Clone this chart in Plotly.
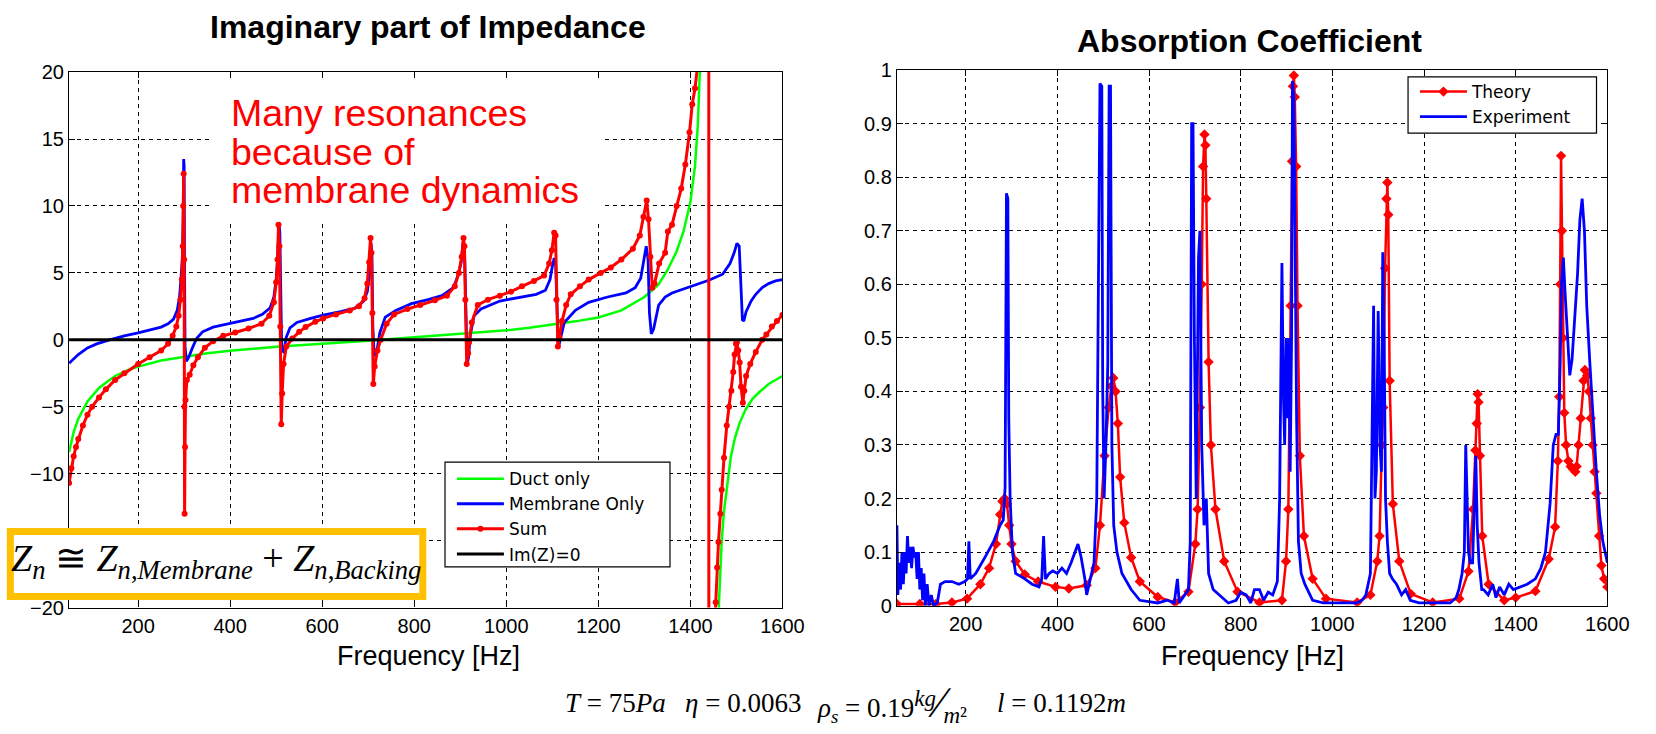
import plotly.graph_objects as go

W, H = 1656, 734

# ---------------- Imaginary part of impedance ----------------
duct_freq = [50, 55, 60, 70, 80, 90, 100, 115, 130, 150, 175, 200, 250, 300, 350, 400, 450, 500,
             550, 600, 650, 700, 750, 800, 850, 900, 950, 1000, 1050, 1100, 1150, 1200, 1250,
             1300, 1330, 1350, 1370, 1385, 1400, 1410, 1416, 1421, None,
             1461, 1464, 1468, 1473, 1480, 1488, 1497, 1507, 1520, 1535, 1550, 1570, 1585, 1600]
duct_im = [-8.4, -7.6, -6.9, -5.9, -5.2, -4.6, -4.2, -3.6, -3.2, -2.7, -2.3, -2.0, -1.55, -1.25,
           -1.0, -0.82, -0.65, -0.52, -0.4, -0.3, -0.2, -0.07, 0.06, 0.19, 0.31, 0.43, 0.57, 0.71,
           0.9, 1.12, 1.38, 1.67, 2.2, 3.2, 4.1, 5.2, 6.6, 8.1, 10.3, 13.0, 16.0, 20.5, None,
           -20.5, -18.0, -15.0, -12.8, -10.8, -8.7, -7.3, -6.2, -5.2, -4.4, -3.9, -3.3, -3.0, -2.7]

membrane_freq = [50, 70, 90, 110, 138, 170, 200, 230, 250, 265, 277, 285, 290, 293, 296, 298, 299,
                 300, 301, 302, 305, 310, 318, 327, 340, 363, 390, 420, 450, 470, 487, 495, 500,
                 503, 506, 508, 510, 512, 516, 522, 530, 545, 575, 602, 640, 670, 690, 698, 703,
                 706, 708, 710, 713, 718, 725, 737, 760, 794, 830, 860, 885, 895, 902, 906, 909,
                 912, 915, 918, 922, 930, 945, 986, 1030, 1065, 1085, 1095, 1100, 1104, 1107, 1110,
                 1113, 1117, 1126, 1150, 1179, 1220, 1260, 1280, 1292, 1298, 1304, 1308, 1311,
                 1315, 1320, 1331, 1345, 1360, 1400, 1440, 1470, 1486, 1495, 1501, 1506, 1509,
                 1513, 1516, 1521, 1532, 1542, 1556, 1570, 1585, 1600]
membrane_im = [-1.75, -1.1, -0.6, -0.3, 0.0, 0.3, 0.52, 0.75, 0.95, 1.2, 1.55, 2.2, 3.2, 4.5, 6.0,
               9.0, 13.5, 13.0, 5.0, -0.5, -1.6, -1.3, -0.6, 0.1, 0.6, 0.95, 1.15, 1.35, 1.6, 1.9,
               2.4, 3.2, 4.5, 6.0, 8.7, 8.0, 2.0, -0.8, -0.9, 0.2, 0.9, 1.3, 1.6, 1.85, 2.1, 2.35,
               2.9, 3.6, 5.0, 7.2, 6.5, 1.0, -1.2, -1.0, 0.5, 1.7, 2.2, 2.7, 3.0, 3.3, 3.9, 4.8,
               5.8, 7.3, 7.0, 2.0, -1.8, -1.3, 0.4, 1.8, 2.3, 2.9, 3.2, 3.4, 3.7, 4.5, 5.5, 6.1,
               5.8, 2.0, -0.6, 0.0, 1.3, 2.2, 2.8, 3.2, 3.5, 3.9, 4.6, 5.8, 7.0, 6.0, 2.0, 0.45,
               0.8, 2.6, 3.2, 3.5, 4.0, 4.45, 4.9, 5.7, 6.5, 7.2, 7.0, 4.5, 1.5, 1.4, 2.1, 2.9,
               3.4, 3.9, 4.2, 4.4, 4.5]

sum_freq = [50, 55, 60, 65, 70, 80, 90, 100, 115, 130, 150, 170, 200, 225, 250, 265, 275, 283, 288,
            292, 295, 297, 298, 299, 300, 300.5, 301, 302, 303, 306, 312, 320, 330, 345, 363, 385,
            411, 440, 468, 485, 495, 500, 503, 505, 507, 509, 511, 513, 516, 522, 535, 550, 564,
            585, 602, 630, 660, 680, 692, 698, 702, 705, 707, 709, 711, 714, 720, 727, 740, 756,
            785, 813, 845, 871, 888, 897, 903, 907, 909, 911, 914, 917, 919, 925, 938, 960, 986,
            1010, 1034, 1060, 1082, 1093, 1099, 1104, 1107, 1109, 1112, 1115, 1121, 1130, 1140,
            1160, 1179, 1205, 1227, 1250, 1275, 1290, 1298, 1305, 1309, 1313, 1317, 1322, 1332,
            1345, 1351, 1360, 1370, 1380, 1389, 1398, 1404, 1410, 1415, 1420, 1439, 1441, 1452,
            1455, 1458, 1461, 1465, 1468, 1473, 1479, 1484, 1489, 1493, 1496, 1499, 1501, 1504,
            1507, 1510, 1514, 1517, 1521, 1530, 1542, 1556, 1565, 1577, 1588, 1600]
sum_im = [-10.7, -9.6, -8.7, -8.0, -7.4, -6.4, -5.6, -5.0, -4.3, -3.7, -3.0, -2.5, -1.8, -1.3,
          -0.8, -0.3, 0.3, 1.0, 1.8, 3.0, 4.5, 7.0, 10.0, 12.4, 6.0, -5.0, -13.0, -8.0, -4.5,
          -3.0, -2.6, -1.9, -1.3, -0.6, -0.1, 0.3, 0.55, 0.85, 1.2, 1.8, 2.8, 4.3, 6.0, 8.6, 7.0,
          1.0, -6.3, -4.0, -1.8, -0.5, 0.1, 0.6, 0.95, 1.35, 1.6, 1.9, 2.2, 2.5, 3.1, 4.2, 5.8,
          7.6, 6.5, 2.0, -3.3, -2.0, -0.8, 0.0, 1.2, 1.9, 2.3, 2.6, 2.95, 3.3, 4.0, 5.0, 6.2,
          7.6, 7.0, 3.0, -1.8, -1.0, -0.2, 1.3, 2.6, 3.0, 3.3, 3.6, 4.0, 4.4, 4.8, 5.7, 6.7,
          8.0, 7.8, 3.0, -0.5, 0.2, 1.4, 2.6, 3.4, 4.0, 4.5, 5.0, 5.4, 6.0, 6.8, 7.8, 9.2, 10.4,
          9.0, 6.2, 3.9, 4.2, 5.7, 6.5, 8.1, 8.6, 10.0, 11.3, 13.1, 15.5, 17.6, 18.8, 20.3, 23.0,
          300.0, -300.0, -22.0, -19.6, -17.0, -15.1, -13.0, -11.2, -8.8, -6.4, -5.0, -3.8, -2.4,
          -1.1, -0.3, -0.2, -0.8, -1.7, -3.5, -4.7, -3.8, -2.7, -1.8, -0.9, 0.0, 0.4, 1.0, 1.4,
          1.85]

zero_freq = [50, 1600]
zero_im = [0, 0]

imp_xticks = [200, 400, 600, 800, 1000, 1200, 1400, 1600]
imp_yticks = [-20, -15, -10, -5, 0, 5, 10, 15, 20]

# ---------------- Absorption coefficient ----------------
theory_freq = [50, 100, 135, 170, 203, 232, 251, 266, 275, 280, 285, 290, 295, 300, 309, 329, 358,
               396, 425, 464, 483, 493, 503, 512, 518, 522, 527, 532, 537, 546, 561, 580, 619,
               657, 686, 701, 706, 711, 715, 718, 721, 723, 725, 730, 735, 745, 764, 793, 841,
               890, 899, 904, 909, 912, 914, 916, 918, 921, 924, 929, 938, 957, 986, 1054, 1083,
               1098, 1103, 1108, 1111, 1115, 1118, 1120, 1122, 1125, 1132, 1146, 1171, 1219,
               1277, 1297, 1307, 1312, 1315, 1317, 1319, 1322, 1327, 1341, 1375, 1400, 1443,
               1472, 1486, 1492, 1495, 1497, 1499, 1501, 1503, 1506, 1510, 1515, 1520, 1525,
               1530, 1533, 1537, 1542, 1548, 1551, 1556, 1560, 1564, 1568, 1572, 1576, 1582,
               1587, 1593, 1600]
theory_alpha = [0.003, 0.003, 0.003, 0.006, 0.013, 0.04, 0.07, 0.115, 0.17, 0.195, 0.2, 0.19,
                0.15, 0.115, 0.083, 0.058, 0.045, 0.035, 0.032, 0.038, 0.07, 0.15, 0.28, 0.37,
                0.41, 0.425, 0.4, 0.34, 0.24, 0.155, 0.09, 0.045, 0.016, 0.006, 0.026, 0.115,
                0.18, 0.37, 0.6, 0.82, 0.88, 0.86, 0.76, 0.455, 0.3, 0.18, 0.083, 0.026, 0.006,
                0.01, 0.083, 0.18, 0.56, 0.83, 0.97, 0.99, 0.95, 0.82, 0.56, 0.28, 0.13, 0.05,
                0.013, 0.006, 0.02, 0.083, 0.13, 0.3, 0.37, 0.63, 0.76, 0.79, 0.73, 0.42, 0.19,
                0.083, 0.022, 0.006, 0.013, 0.064, 0.18, 0.29, 0.34, 0.395, 0.38, 0.28, 0.13,
                0.04, 0.01, 0.015, 0.027, 0.087, 0.147, 0.27, 0.39, 0.6, 0.84, 0.7, 0.5, 0.36,
                0.3, 0.27, 0.26, 0.255, 0.25, 0.26, 0.3, 0.35, 0.42, 0.44, 0.43, 0.4, 0.35, 0.3,
                0.25, 0.21, 0.13, 0.075, 0.05, 0.035]

experiment_freq = [50, 52, 55, 58, 61, 64, 67, 70, 73, 76, 79, 82, 85, 88, 91, 94, 97, 100, 103,
                   106, 109, 112, 116, 120, 125, 130, 138, 145, 155, 170, 185, 198, 204, 207,
                   210, 222, 242, 261, 275, 282, 286, 289, 292, 294, 297, 302, 309, 329, 345,
                   360, 366, 370, 374, 382, 390, 400, 410, 420, 430, 438, 445, 452, 460, 464,
                   472, 480, 486, 490, 493, 497, 499, 502, 506, 510, 513, 516, 519, 523, 530,
                   541, 561, 580, 600, 619, 640, 655, 662, 666, 686, 690, 693, 696, 699, 703,
                   708, 711, 715, 720, 725, 730, 740, 754, 773, 790, 800, 812, 822, 830, 841,
                   850, 860, 870, 880, 885, 890, 893, 896, 899, 902, 905, 908, 911, 913, 916,
                   919, 922, 926, 932, 940, 957, 980, 1005, 1030, 1054, 1065, 1073, 1083, 1088,
                   1090, 1093, 1096, 1100, 1104, 1107, 1110, 1113, 1116, 1120, 1125, 1131, 1140,
                   1151, 1160, 1170, 1189, 1210, 1230, 1257, 1270, 1276, 1283, 1288, 1291, 1294,
                   1297, 1301, 1306, 1310, 1313, 1316, 1320, 1326, 1330, 1340, 1350, 1357, 1365,
                   1375, 1385, 1395, 1410, 1425, 1443, 1455, 1465, 1475, 1482, 1488, 1493, 1497,
                   1500, 1504, 1508, 1513, 1518, 1523, 1529, 1535, 1540, 1545, 1550, 1555, 1562,
                   1570, 1576, 1583, 1590, 1600]
experiment_alpha = [0.15, 0.02, 0.08, 0.03, 0.1, 0.04, 0.1, 0.06, 0.13, 0.08, 0.11, 0.07, 0.11,
                    0.09, 0.1, 0.05, 0.1, 0.03, 0.07, 0.01, 0.06, 0.0, 0.04, 0.0, 0.02, 0.0,
                    0.005, 0.04, 0.045, 0.045, 0.04, 0.045, 0.05, 0.12, 0.05, 0.06, 0.09, 0.12,
                    0.15, 0.16, 0.22, 0.77, 0.76, 0.35, 0.2, 0.1, 0.06, 0.05, 0.04, 0.035, 0.05,
                    0.13, 0.05, 0.06, 0.065, 0.06, 0.07, 0.06, 0.08, 0.1, 0.115, 0.09, 0.05,
                    0.02, 0.05, 0.08, 0.2, 0.75, 0.975, 0.97, 0.4, 0.2, 0.3, 0.45, 0.97, 0.97,
                    0.3, 0.15, 0.1, 0.06, 0.03, 0.01, 0.008, 0.005, 0.01, 0.005, 0.05, 0.005,
                    0.03, 0.12, 0.9, 0.9, 0.5, 0.2, 0.65, 0.7, 0.3, 0.15, 0.2, 0.06, 0.03, 0.02,
                    0.005, 0.01, 0.025, 0.02, 0.005, 0.03, 0.03, 0.01, 0.025, 0.02, 0.045, 0.2,
                    0.64, 0.4, 0.3, 0.5, 0.35, 0.5, 0.25, 0.5, 0.98, 0.95, 0.55, 0.35, 0.12,
                    0.06, 0.04, 0.01, 0.005, 0.005, 0.005, 0.005, 0.01, 0.02, 0.06, 0.44, 0.56,
                    0.2, 0.25, 0.55, 0.3, 0.25, 0.66, 0.5, 0.2, 0.12, 0.06, 0.05, 0.04, 0.02,
                    0.03, 0.01, 0.005, 0.005, 0.005, 0.005, 0.015, 0.03, 0.06, 0.1, 0.3, 0.2,
                    0.1, 0.08, 0.08, 0.2, 0.28, 0.15, 0.08, 0.03, 0.03, 0.02, 0.04, 0.015, 0.035,
                    0.02, 0.04, 0.03, 0.035, 0.04, 0.05, 0.07, 0.1, 0.19, 0.3, 0.32, 0.32, 0.45,
                    0.6, 0.65, 0.58, 0.5, 0.43, 0.46, 0.55, 0.62, 0.72, 0.76, 0.7, 0.56, 0.45,
                    0.33, 0.25, 0.17, 0.12, 0.08]

abs_xticks = [200, 400, 600, 800, 1000, 1200, 1400, 1600]
abs_yticks = [0, 0.1, 0.2, 0.3, 0.4, 0.5, 0.6, 0.7, 0.8, 0.9, 1]
abs_yticktext = ["0", "0.1", "0.2", "0.3", "0.4", "0.5", "0.6", "0.7", "0.8", "0.9", "1"]

RED, BLUE, GREEN = "#ff0000", "#0000ff", "#00ff00"

fig = go.Figure()

fig.add_trace(go.Scatter(x=duct_freq, y=duct_im, name="Duct only", mode="lines",
                         line=dict(color=GREEN, width=2.5), xaxis="x", yaxis="y",
                         legend="legend", connectgaps=False))
fig.add_trace(go.Scatter(x=membrane_freq, y=membrane_im, name="Membrane Only", mode="lines",
                         line=dict(color=BLUE, width=2.8), xaxis="x", yaxis="y",
                         legend="legend"))
fig.add_trace(go.Scatter(x=sum_freq, y=sum_im, name="Sum", mode="lines+markers",
                         line=dict(color=RED, width=3),
                         marker=dict(color=RED, size=6, symbol="circle"),
                         xaxis="x", yaxis="y", legend="legend"))
fig.add_trace(go.Scatter(x=zero_freq, y=zero_im, name="Im(Z)=0", mode="lines",
                         line=dict(color="black", width=3), xaxis="x", yaxis="y",
                         legend="legend"))

fig.add_trace(go.Scatter(x=theory_freq, y=theory_alpha, name="Theory", mode="lines+markers",
                         line=dict(color=RED, width=2.5),
                         marker=dict(color=RED, size=8, symbol="diamond"),
                         xaxis="x2", yaxis="y2", legend="legend2"))
fig.add_trace(go.Scatter(x=experiment_freq, y=experiment_alpha, name="Experiment", mode="lines",
                         line=dict(color=BLUE, width=2.8), xaxis="x2", yaxis="y2",
                         legend="legend2"))

tick_font = dict(family="Liberation Sans", size=20, color="black")
axis_style = dict(showline=True, linecolor="black", linewidth=1.2, mirror="ticks",
                  ticks="inside", ticklen=6, tickcolor="black", tickwidth=1,
                  showgrid=True, gridcolor="black", gridwidth=1, griddash="4px,4px",
                  zeroline=False, tickfont=tick_font)


def px_x(p):
    return p / W


def px_y(p):
    return 1 - p / H


legend_style = dict(xanchor="left", yanchor="top", bgcolor="rgba(0,0,0,0)",
                    borderwidth=0, font=dict(family="DejaVu Sans", size=17, color="black"),
                    itemwidth=47, tracegroupgap=0)

fig.update_layout(
    width=W, height=H,
    margin=dict(l=0, r=0, t=0, b=0),
    paper_bgcolor="white", plot_bgcolor="white",
    xaxis=dict(domain=[px_x(70), px_x(793)], range=[50, 1600], tickvals=imp_xticks,
               anchor="y", **axis_style),
    yaxis=dict(domain=[px_y(615), px_y(63)], range=[-20, 20], tickvals=imp_yticks,
               anchor="x", **axis_style),
    xaxis2=dict(domain=[px_x(909), px_x(1629)], range=[50, 1600], tickvals=abs_xticks,
                anchor="y2", **axis_style),
    yaxis2=dict(domain=[px_y(613), px_y(61)], range=[0, 1], tickvals=abs_yticks,
                ticktext=abs_yticktext, anchor="x2", **axis_style),
    legend=dict(x=px_x(458), y=px_y(464), **legend_style),
    legend2=dict(x=px_x(1434), y=px_y(65), **legend_style),
    showlegend=True,
)

# legend frames
fig.add_shape(type="rect", xref="paper", yref="paper",
              x0=px_x(451), x1=px_x(679), y0=px_y(573), y1=px_y(465),
              fillcolor="white", line=dict(color="black", width=1.2), layer="above")
fig.add_shape(type="rect", xref="paper", yref="paper",
              x0=px_x(1427), x1=px_x(1618), y0=px_y(126), y1=px_y(68),
              fillcolor="white", line=dict(color="black", width=1.2), layer="above")

# white panel behind the red note inside the impedance axes
fig.add_shape(type="rect", xref="x", yref="y", x0=354, x1=1213, y0=8.9, y1=20,
              fillcolor="white", line=dict(width=0), layer="between")

# framed impedance relation
fig.add_shape(type="rect", xref="paper", yref="paper",
              x0=px_x(10.5), x1=px_x(428.5), y0=px_y(603.5), y1=px_y(536.5),
              fillcolor="white", line=dict(color="#ffc000", width=7), layer="above")

serif = "Liberation Serif"
annotations = [
    dict(text="<b>Imaginary part of Impedance</b>", x=px_x(434), y=px_y(17),
         font=dict(family="Liberation Sans", size=32, color="black")),
    dict(text="<b>Absorption Coefficient</b>", x=px_x(1266), y=px_y(31),
         font=dict(family="Liberation Sans", size=32, color="black")),
    dict(text="Frequency [Hz]", x=px_x(434), y=px_y(665),
         font=dict(family="Liberation Sans", size=27, color="black")),
    dict(text="Frequency [Hz]", x=px_x(1269), y=px_y(665),
         font=dict(family="Liberation Sans", size=27, color="black")),
    dict(text="<i>Z</i><sub><i>n</i></sub> ≅ <i>Z</i><sub><i>n</i>,<i>Membrane</i></sub>"
              " + <i>Z</i><sub><i>n</i>,<i>Backing</i></sub>",
         x=px_x(219), y=px_y(567),
         font=dict(family=serif, size=38, color="black")),
    dict(text="<i>T</i> = 75<i>Pa</i>", x=px_x(571), y=px_y(713), xanchor="left",
         font=dict(family=serif, size=27, color="black")),
    dict(text="<i>η</i> = 0.0063", x=px_x(692), y=px_y(713), xanchor="left",
         font=dict(family=serif, size=27, color="black")),
    dict(text="<i>ρ</i><sub><i>s</i></sub> = 0.19"
              "<sup><span style='font-size:23px'><i>kg</i></span></sup>"
              "<span style='font-size:44px'>∕</span>"
              "<sub><span style='font-size:23px'><i>m</i>²</span></sub>",
         x=px_x(826), y=px_y(713), xanchor="left",
         font=dict(family=serif, size=27, color="black")),
    dict(text="<i>l</i> = 0.1192<i>m</i>", x=px_x(1008), y=px_y(713), xanchor="left",
         font=dict(family=serif, size=27, color="black")),
]
for line_text, yc in [("Many resonances", 105), ("because of", 145),
                      ("membrane dynamics", 185)]:
    annotations.append(dict(text=line_text, x=px_x(232), y=px_y(yc), xanchor="left",
                            font=dict(family="Liberation Sans", size=37.5, color=RED)))

for a in annotations:
    a.setdefault("xanchor", "center")
    a.update(xref="paper", yref="paper", yanchor="middle", showarrow=False)
fig.update_layout(annotations=annotations)

fig.write_html("out.html")
